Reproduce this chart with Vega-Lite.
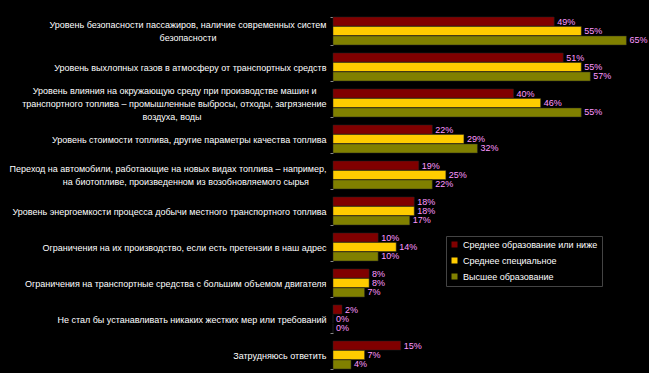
{
  "$schema": "https://vega.github.io/schema/vega-lite/v6.json",
  "width": 316,
  "height": 360,
  "autosize": {"type": "none"},
  "padding": {"left": 333, "top": 13, "right": 0, "bottom": 0},
  "background": "#000000",
  "config": {"view": {"stroke": null}, "font": "Liberation Sans"},
  "data": {"values": [
    {"cat": "Уровень безопасности пассажиров, наличие современных систем|безопасности\u00a0\u00a0\u00a0\u00a0\u00a0\u00a0\u00a0\u00a0\u00a0\u00a0\u00a0\u00a0\u00a0\u00a0\u00a0\u00a0\u00a0\u00a0\u00a0\u00a0\u00a0\u00a0\u00a0\u00a0\u00a0\u00a0\u00a0\u00a0\u00a0\u00a0\u00a0\u00a0\u00a0\u00a0\u00a0\u00a0\u00a0\u00a0\u00a0\u00a0\u00a0\u00a0\u00a0\u00a0\u200b", "group": "Среднее образование или ниже", "value": 49},
    {"cat": "Уровень безопасности пассажиров, наличие современных систем|безопасности\u00a0\u00a0\u00a0\u00a0\u00a0\u00a0\u00a0\u00a0\u00a0\u00a0\u00a0\u00a0\u00a0\u00a0\u00a0\u00a0\u00a0\u00a0\u00a0\u00a0\u00a0\u00a0\u00a0\u00a0\u00a0\u00a0\u00a0\u00a0\u00a0\u00a0\u00a0\u00a0\u00a0\u00a0\u00a0\u00a0\u00a0\u00a0\u00a0\u00a0\u00a0\u00a0\u00a0\u00a0\u200b", "group": "Среднее специальное", "value": 55},
    {"cat": "Уровень безопасности пассажиров, наличие современных систем|безопасности\u00a0\u00a0\u00a0\u00a0\u00a0\u00a0\u00a0\u00a0\u00a0\u00a0\u00a0\u00a0\u00a0\u00a0\u00a0\u00a0\u00a0\u00a0\u00a0\u00a0\u00a0\u00a0\u00a0\u00a0\u00a0\u00a0\u00a0\u00a0\u00a0\u00a0\u00a0\u00a0\u00a0\u00a0\u00a0\u00a0\u00a0\u00a0\u00a0\u00a0\u00a0\u00a0\u00a0\u00a0\u200b", "group": "Высшее образование", "value": 65},
    {"cat": "Уровень выхлопных газов в атмосферу от транспортных средств", "group": "Среднее образование или ниже", "value": 51},
    {"cat": "Уровень выхлопных газов в атмосферу от транспортных средств", "group": "Среднее специальное", "value": 55},
    {"cat": "Уровень выхлопных газов в атмосферу от транспортных средств", "group": "Высшее образование", "value": 57},
    {"cat": "Уровень влияния на окружающую среду при производстве машин и\u00a0\u00a0\u00a0\u00a0\u200b|транспортного топлива – промышленные выбросы, отходы, загрязнение|воздуха, воды\u00a0\u00a0\u00a0\u00a0\u00a0\u00a0\u00a0\u00a0\u00a0\u00a0\u00a0\u00a0\u00a0\u00a0\u00a0\u00a0\u00a0\u00a0\u00a0\u00a0\u00a0\u00a0\u00a0\u00a0\u00a0\u00a0\u00a0\u00a0\u00a0\u00a0\u00a0\u00a0\u00a0\u00a0\u00a0\u00a0\u00a0\u00a0\u00a0\u00a0\u00a0\u00a0\u00a0\u00a0\u00a0\u00a0\u00a0\u00a0\u00a0\u00a0\u200b", "group": "Среднее образование или ниже", "value": 40},
    {"cat": "Уровень влияния на окружающую среду при производстве машин и\u00a0\u00a0\u00a0\u00a0\u200b|транспортного топлива – промышленные выбросы, отходы, загрязнение|воздуха, воды\u00a0\u00a0\u00a0\u00a0\u00a0\u00a0\u00a0\u00a0\u00a0\u00a0\u00a0\u00a0\u00a0\u00a0\u00a0\u00a0\u00a0\u00a0\u00a0\u00a0\u00a0\u00a0\u00a0\u00a0\u00a0\u00a0\u00a0\u00a0\u00a0\u00a0\u00a0\u00a0\u00a0\u00a0\u00a0\u00a0\u00a0\u00a0\u00a0\u00a0\u00a0\u00a0\u00a0\u00a0\u00a0\u00a0\u00a0\u00a0\u00a0\u00a0\u200b", "group": "Среднее специальное", "value": 46},
    {"cat": "Уровень влияния на окружающую среду при производстве машин и\u00a0\u00a0\u00a0\u00a0\u200b|транспортного топлива – промышленные выбросы, отходы, загрязнение|воздуха, воды\u00a0\u00a0\u00a0\u00a0\u00a0\u00a0\u00a0\u00a0\u00a0\u00a0\u00a0\u00a0\u00a0\u00a0\u00a0\u00a0\u00a0\u00a0\u00a0\u00a0\u00a0\u00a0\u00a0\u00a0\u00a0\u00a0\u00a0\u00a0\u00a0\u00a0\u00a0\u00a0\u00a0\u00a0\u00a0\u00a0\u00a0\u00a0\u00a0\u00a0\u00a0\u00a0\u00a0\u00a0\u00a0\u00a0\u00a0\u00a0\u00a0\u00a0\u200b", "group": "Высшее образование", "value": 55},
    {"cat": "Уровень стоимости топлива, другие параметры качества топлива", "group": "Среднее образование или ниже", "value": 22},
    {"cat": "Уровень стоимости топлива, другие параметры качества топлива", "group": "Среднее специальное", "value": 29},
    {"cat": "Уровень стоимости топлива, другие параметры качества топлива", "group": "Высшее образование", "value": 32},
    {"cat": "Переход на автомобили, работающие на новых видах топлива – например,|на биотопливе, произведенном из возобновляемого сырья\u00a0\u00a0\u00a0\u00a0\u00a0\u00a0\u00a0\u200b", "group": "Среднее образование или ниже", "value": 19},
    {"cat": "Переход на автомобили, работающие на новых видах топлива – например,|на биотопливе, произведенном из возобновляемого сырья\u00a0\u00a0\u00a0\u00a0\u00a0\u00a0\u00a0\u200b", "group": "Среднее специальное", "value": 25},
    {"cat": "Переход на автомобили, работающие на новых видах топлива – например,|на биотопливе, произведенном из возобновляемого сырья\u00a0\u00a0\u00a0\u00a0\u00a0\u00a0\u00a0\u200b", "group": "Высшее образование", "value": 22},
    {"cat": "Уровень энергоемкости процесса добычи местного транспортного топлива", "group": "Среднее образование или ниже", "value": 18},
    {"cat": "Уровень энергоемкости процесса добычи местного транспортного топлива", "group": "Среднее специальное", "value": 18},
    {"cat": "Уровень энергоемкости процесса добычи местного транспортного топлива", "group": "Высшее образование", "value": 17},
    {"cat": "Ограничения на их производство, если есть претензии в наш адрес", "group": "Среднее образование или ниже", "value": 10},
    {"cat": "Ограничения на их производство, если есть претензии в наш адрес", "group": "Среднее специальное", "value": 14},
    {"cat": "Ограничения на их производство, если есть претензии в наш адрес", "group": "Высшее образование", "value": 10},
    {"cat": "Ограничения на транспортные средства с большим объемом двигателя", "group": "Среднее образование или ниже", "value": 8},
    {"cat": "Ограничения на транспортные средства с большим объемом двигателя", "group": "Среднее специальное", "value": 8},
    {"cat": "Ограничения на транспортные средства с большим объемом двигателя", "group": "Высшее образование", "value": 7},
    {"cat": "Не стал бы устанавливать никаких жестких мер или требований", "group": "Среднее образование или ниже", "value": 2},
    {"cat": "Не стал бы устанавливать никаких жестких мер или требований", "group": "Среднее специальное", "value": 0},
    {"cat": "Не стал бы устанавливать никаких жестких мер или требований", "group": "Высшее образование", "value": 0},
    {"cat": "Затрудняюсь ответить", "group": "Среднее образование или ниже", "value": 15},
    {"cat": "Затрудняюсь ответить", "group": "Среднее специальное", "value": 7},
    {"cat": "Затрудняюсь ответить", "group": "Высшее образование", "value": 4}
  ]},
  "transform": [{"calculate": "datum.value + '%'", "as": "pct"}],
  "encoding": {
    "y": {
      "field": "cat", "type": "nominal", "sort": null, "title": null,
      "scale": {"paddingInner": 0.22, "paddingOuter": 0.11},
      "axis": {
        "labelExpr": "split(datum.label, '|')",
        "labelColor": "#ffffff", "labelFontSize": 9, "labelLineHeight": 13,
        "labelLimit": 400, "labelPadding": 4,
        "labelOffset": {"condition": [
          {"test": "length(split(datum.value, '|')) == 3", "value": -13},
          {"test": "length(split(datum.value, '|')) == 2", "value": -6.5}
        ], "value": 0},
        "tickBand": "extent",
        "tickColor": "#888888", "tickSize": 3, "domain": false
      }
    },
    "yOffset": {"field": "group", "type": "nominal", "sort": ["Среднее образование или ниже", "Среднее специальное", "Высшее образование"], "scale": {"paddingInner": 0.04}},
    "x": {"field": "value", "type": "quantitative", "scale": {"domain": [0, 70]}, "axis": null}
  },
  "layer": [
    {
      "mark": {"type": "bar", "stroke": "#222222", "strokeWidth": 0.5},
      "encoding": {
        "color": {
          "field": "group", "type": "nominal",
          "scale": {"domain": ["Среднее образование или ниже", "Среднее специальное", "Высшее образование"], "range": ["#800000", "#ffcc00", "#808000"]},
          "legend": {
            "title": null, "orient": "none", "legendX": 113, "legendY": 223,
            "symbolType": "square", "symbolSize": 36, "symbolStrokeWidth": 0,
            "labelColor": "#ffffff", "labelFontSize": 9, "rowPadding": 6,
            "strokeColor": "#444444", "padding": 4, "fillColor": "#000000"
          }
        }
      }
    },
    {
      "mark": {"type": "text", "align": "left", "baseline": "middle", "dx": 3, "fontSize": 9, "color": "#ff99ff"},
      "encoding": {"text": {"field": "pct", "type": "nominal"}}
    }
  ]
}
